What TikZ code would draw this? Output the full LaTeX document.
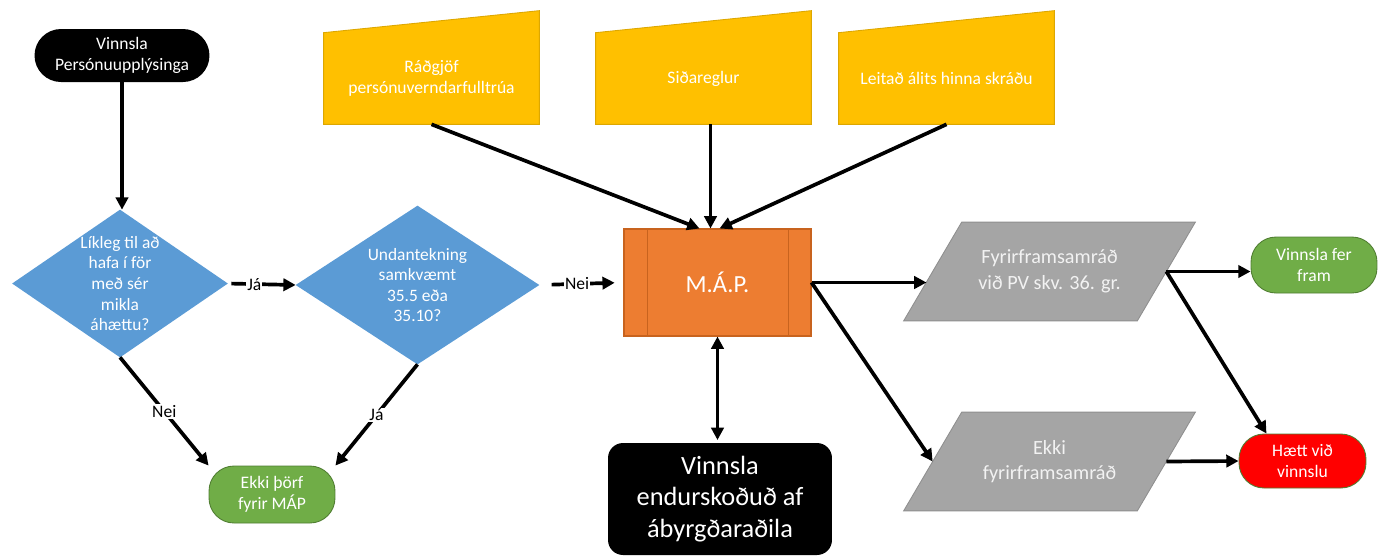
\documentclass[tikz,border=0pt]{standalone}
\usepackage{fontspec}
\setmainfont{Carlito}
\usetikzlibrary{arrows.meta,positioning,calc,backgrounds}
\definecolor{qblue}{HTML}{5B9BD5}
\definecolor{qyellow}{HTML}{FFC000}
\definecolor{qyelline}{HTML}{DDA700}
\definecolor{qorange}{HTML}{ED7D31}
\definecolor{qorline}{HTML}{C8631E}
\definecolor{qgrey}{HTML}{A5A5A5}
\definecolor{qgreyline}{HTML}{8F8F8F}
\definecolor{qgreytext}{HTML}{F2F2F2}
\definecolor{qgreen}{HTML}{70AD47}
\definecolor{qgreenline}{HTML}{507E32}
\definecolor{qred}{HTML}{FF0000}

\begin{document}
\begin{tikzpicture}[x=0.02cm,y=-0.02cm,
    txt/.style={align=center,text=white,inner sep=2pt,font=\fontsize{10}{12}\selectfont},
    term/.style={txt,fill=black,minimum width=3.5cm,minimum height=1.06cm,rounded corners=0.53cm},
    dec/.style={txt,minimum width=4.3cm,minimum height=2.94cm,font=\fontsize{9.9}{11.7}\selectfont},
    inbox/.style={txt,minimum width=4.3cm,minimum height=1.82cm},
    endbox/.style={txt,draw=qgreenline,line width=0.5pt,minimum width=2.52cm,minimum height=1.12cm,rounded corners=0.5cm},
    mapbox/.style={txt,fill=qorange,draw=qorline,line width=0.6pt,minimum width=3.74cm,minimum height=2.14cm,font=\fontsize{14}{17}\selectfont},
    revbox/.style={txt,fill=black,minimum width=4.48cm,minimum height=2.24cm,rounded corners=0.3cm,font=\fontsize{15}{18}\selectfont},
    paral/.style={txt,text=qgreytext,minimum width=4.66cm,minimum height=1.96cm,font=\fontsize{11.5}{14.5}\selectfont},
    lbl/.style={fill=white,text=black,inner sep=0.6pt,font=\fontsize{10}{12}\selectfont},
    arr/.style={-{Triangle[length=7pt,width=7pt]},line width=2.1pt},
    darr/.style={{Triangle[length=7pt,width=7pt]}-{Triangle[length=7pt,width=7pt]},line width=2.1pt}]
  \useasboundingbox (0,0) rectangle (1387,556);

  % left part
  \node[term] (vp) at (122,55.5) {Vinnsla\\Persónuupplýsinga};
  \node[dec] (lik) at (120,283.5) {Líkleg til að\\hafa í för\\með sér\\mikla\\áhættu?};
  \node[dec,minimum width=4.86cm,minimum height=3.16cm] (undan) at (417.5,285) {Undantekning\\samkvæmt\\35.5 eða\\35.10?};
  \node[endbox,fill=qgreen,minimum height=1.14cm] (ekki) at (272,494.5) {Ekki þörf\\fyrir MÁP};

  % inputs on top
  \node[inbox] (r1) at (431.5,78.5) {Ráðgjöf\\persónuverndarfulltrúa};
  \node[inbox] (r2) at (703.5,78.5) {Siðareglur};
  \node[inbox] (r3) at (946.5,78.5) {Leitað álits hinna skráðu};

  % middle and right part
  \node[mapbox] (map) at (717.5,282.5) {M.Á.P.};
  \node[revbox] (rev) at (720,499) {Vinnsla\\endurskoðuð af\\ábyrgðaraðila};
  \node[paral] (g1) at (1049.5,271.5) {Fyrirframsamráð\\við PV skv. 36. gr.};
  \node[paral] (g2) at (1049.5,461.5) {Ekki\\fyrirframsamráð};
  \node[endbox,fill=qgreen] (fram) at (1314,265) {Vinnsla fer\\fram};
  \node[endbox,fill=qred,minimum width=2.54cm,minimum height=1.08cm] (haett) at (1302.5,461) {Hætt við\\vinnslu};

  \draw[qorline,line width=0.6pt] ($(map.north west)+(24,0)$) -- ($(map.south west)+(24,0)$)
    ($(map.north east)+(-23,0)$) -- ($(map.south east)+(-23,0)$);

  \begin{scope}[on background layer]
    \foreach \dn in {lik,undan}
      \fill[qblue] (\dn.north) -- (\dn.east) -- (\dn.south) -- (\dn.west) -- cycle;
    \foreach \yb in {r1,r2,r3}
      \filldraw[fill=qyellow,draw=qyelline,line width=0.5pt] (\yb.south west) -- (\yb.north west)
        -- ($(\yb.north east)+(0,-22)$) -- (\yb.south east) -- cycle;
    \foreach \gb in {g1,g2}
      \filldraw[fill=qgrey,draw=qgreyline,line width=0.5pt] ($(\gb.north west)+(29,0)$) -- ($(\gb.north east)+(29,0)$)
        -- ($(\gb.south east)+(-29,0)$) -- ($(\gb.south west)+(-29,0)$) -- cycle;
  \end{scope}

  \coordinate (m1) at ($(map.north)+(-18,0)$);
  \coordinate (m2) at ($(map.north)+(-7,0)$);
  \coordinate (m3) at ($(map.north)+(2,0)$);
  \coordinate (h1) at ($(haett.north)+(-36,0)$);

  \draw[arr] (vp.south) -- (vp.south |- lik.north);
  \draw[arr,shorten <=2pt] (lik.east) -- node[lbl,pos=0.39]{Já} (undan.west);
  \draw[arr,shorten <=7pt,shorten >=5pt] (undan.east) -- node[lbl,pos=0.45]{Nei} (map.west);
  \draw[arr] (lik.south) -- node[lbl]{Nei} (ekki.north west);
  \draw[arr] (undan.south) -- node[lbl]{Já} (ekki.north east);
  \draw[arr] (r1.south) -- (m1);
  \draw[arr] (r2.south -| m2) -- (m2);
  \draw[arr] (r3.south) -- (m3);
  \draw[darr,shorten >=1.5pt] (map.south) -- (map.south |- rev.north);
  \draw[arr,shorten >=3.5pt] (map.east) -- (map.east -| g1.west);
  \draw[arr] (map.east) -- (g2.west);
  \draw[arr] (g1.east) -- (g1.east -| fram.west);
  \draw[arr] (g1.east) -- (h1);
  \draw[arr] (g2.east) -- (haett.west);
\end{tikzpicture}
\end{document}
